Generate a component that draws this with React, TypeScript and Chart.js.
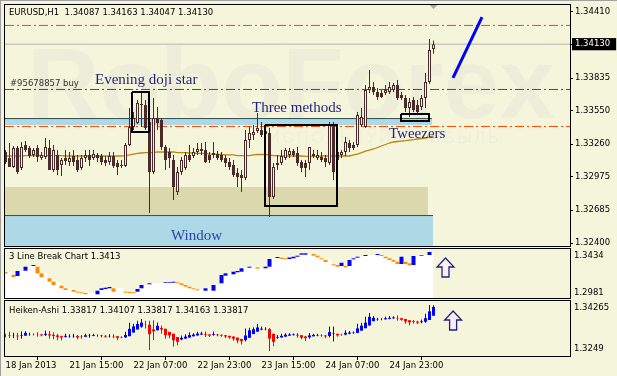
import React, { useEffect, useRef } from "react";
import { Chart, registerables } from "chart.js";

Chart.register(...registerables);

// ---------------- data ----------------
const headerText = "EURUSD,H1  1.34087 1.34163 1.34047 1.34130";
const lineBreakTitle = "3 Line Break Chart 1.3413";
const heikenTitle = "Heiken-Ashi 1.33817 1.34107 1.33817 1.34163 1.33817";
const orderLabel = "#95678857 buy";

const xTickBars = [0, 16, 32, 48, 64, 80, 96];
const xTickLabels = ["18 Jan 2013", "21 Jan 15:00", "22 Jan 07:00", "22 Jan 23:00", "23 Jan 15:00", "24 Jan 07:00", "24 Jan 23:00"];

const priceTicks = [1.3441, 1.3413, 1.33835, 1.3355, 1.3326, 1.32975, 1.32685, 1.324];
const currentPrice = 1.3413;
const lbTickLabels = ["1.2981", "1.3434"];
const haTickLabels = ["1.3249", "1.34265"];

const openP = [
  1.33192, 1.33139, 1.33061, 1.33226, 1.33052, 1.33253, 1.33226, 1.33166, 1.33226, 1.33139,
  1.33148, 1.33226, 1.33035, 1.33166, 1.33079, 1.33139, 1.33105, 1.33157, 1.33122, 1.33052,
  1.33139, 1.33166, 1.33139, 1.33166, 1.33157, 1.33122, 1.33105, 1.33157, 1.33096, 1.33079,
  1.3307, 1.33253, 1.33409, 1.33444, 1.33601, 1.33601, 1.33453, 1.33018, 1.33487, 1.3347,
  1.33235, 1.33192, 1.33122, 1.32844, 1.33018, 1.33052, 1.33166, 1.33157, 1.33192, 1.33218,
  1.33209, 1.33166, 1.33166, 1.33174, 1.33166, 1.33139, 1.33105, 1.33079, 1.33009, 1.32992,
  1.32965, 1.33296, 1.3334, 1.33374, 1.33383, 1.33374, 1.33357, 1.328, 1.33079, 1.33096,
  1.33139, 1.33166, 1.332, 1.33183, 1.33105, 1.33096, 1.33096, 1.33157, 1.33139, 1.33148,
  1.33139, 1.33096, 1.33427, 1.33122, 1.33166, 1.33192, 1.3327, 1.33253, 1.33253, 1.33427,
  1.33409, 1.33731, 1.33757, 1.33714, 1.33705, 1.33705, 1.33714, 1.33731, 1.33775, 1.33688,
  1.33661, 1.33574, 1.33644, 1.33601, 1.33583, 1.33661, 1.33801, 1.34087,
];
const highP = [
  1.33209, 1.3327, 1.33244, 1.33244, 1.33279, 1.33287, 1.33244, 1.33226, 1.33253, 1.33192,
  1.33313, 1.33296, 1.33253, 1.33209, 1.33139, 1.33209, 1.33192, 1.33209, 1.33166, 1.33166,
  1.33209, 1.33209, 1.33209, 1.33183, 1.33174, 1.33157, 1.33192, 1.33192, 1.33122, 1.33122,
  1.3327, 1.33574, 1.3354, 1.33644, 1.33705, 1.33644, 1.33644, 1.33661, 1.33583, 1.33487,
  1.33253, 1.33226, 1.33166, 1.33061, 1.33148, 1.33192, 1.33253, 1.33226, 1.3327, 1.3327,
  1.33279, 1.33192, 1.33279, 1.332, 1.33192, 1.33166, 1.33139, 1.33122, 1.33052, 1.33035,
  1.33383, 1.33409, 1.33427, 1.33531, 1.33453, 1.33427, 1.334, 1.33096, 1.33166, 1.33209,
  1.33226, 1.33226, 1.33218, 1.33235, 1.33122, 1.33122, 1.33235, 1.33209, 1.33209, 1.33192,
  1.33166, 1.33453, 1.33453, 1.33209, 1.33209, 1.33322, 1.33296, 1.33279, 1.3354, 1.33574,
  1.33775, 1.33905, 1.33801, 1.33748, 1.33731, 1.33775, 1.33801, 1.33792, 1.33818, 1.33714,
  1.33688, 1.33661, 1.3367, 1.33644, 1.33688, 1.33879, 1.34175, 1.34163,
];
const lowP = [
  1.33087, 1.33061, 1.33052, 1.33, 1.33035, 1.33192, 1.33139, 1.33148, 1.33105, 1.33122,
  1.33131, 1.33035, 1.33018, 1.32992, 1.32983, 1.33079, 1.3307, 1.3307, 1.33018, 1.33035,
  1.33105, 1.3307, 1.33122, 1.33105, 1.33079, 1.3307, 1.33079, 1.33052, 1.32992, 1.33052,
  1.33061, 1.33244, 1.33383, 1.33435, 1.33409, 1.33383, 1.32661, 1.33, 1.33383, 1.33209,
  1.33035, 1.33052, 1.32774, 1.32818, 1.32992, 1.33035, 1.33105, 1.33139, 1.33166, 1.33166,
  1.33096, 1.33096, 1.33139, 1.33122, 1.33105, 1.33061, 1.33035, 1.32974, 1.32887, 1.32844,
  1.32948, 1.33226, 1.33296, 1.33357, 1.33322, 1.33322, 1.32626, 1.32783, 1.33035, 1.33079,
  1.33122, 1.33139, 1.33148, 1.3307, 1.33018, 1.32974, 1.33035, 1.33139, 1.33122, 1.33105,
  1.33061, 1.33079, 1.32948, 1.33105, 1.33139, 1.33157, 1.33192, 1.33209, 1.33235, 1.33409,
  1.334, 1.33705, 1.33688, 1.33644, 1.33661, 1.33688, 1.33696, 1.33714, 1.33644, 1.33644,
  1.3354, 1.33496, 1.3354, 1.33531, 1.33557, 1.33574, 1.33783, 1.34047,
];
const closeP = [
  1.33105, 1.33061, 1.33226, 1.33018, 1.33235, 1.33209, 1.33157, 1.33209, 1.33148, 1.33166,
  1.33235, 1.33035, 1.33209, 1.33035, 1.33122, 1.33113, 1.33139, 1.33105, 1.33035, 1.33139,
  1.33166, 1.33122, 1.33174, 1.33139, 1.33105, 1.33096, 1.33157, 1.3307, 1.33061, 1.3307,
  1.33253, 1.33409, 1.33487, 1.33618, 1.33609, 1.334, 1.33018, 1.33487, 1.33444, 1.33235,
  1.33122, 1.33139, 1.32887, 1.33018, 1.33122, 1.33166, 1.33122, 1.33192, 1.33218, 1.332,
  1.33105, 1.33122, 1.33183, 1.33139, 1.33122, 1.33096, 1.33061, 1.32992, 1.32974, 1.32965,
  1.33296, 1.33357, 1.33366, 1.334, 1.3334, 1.33348, 1.328, 1.33061, 1.33096, 1.33157,
  1.33209, 1.332, 1.33166, 1.33096, 1.33052, 1.33052, 1.33235, 1.33174, 1.33166, 1.33122,
  1.33105, 1.33427, 1.33018, 1.33192, 1.33192, 1.33279, 1.33226, 1.33226, 1.33514, 1.33496,
  1.33731, 1.33757, 1.33714, 1.3367, 1.3367, 1.33731, 1.33757, 1.33775, 1.33661, 1.33661,
  1.33574, 1.33627, 1.33557, 1.3354, 1.33661, 1.33801, 1.34079, 1.3413,
];
const maP = [
  1.33157, 1.33157, 1.33157, 1.33157, 1.33157, 1.33161, 1.33161, 1.33161, 1.33161, 1.33161,
  1.33161, 1.33161, 1.33161, 1.33161, 1.33161, 1.33157, 1.33157, 1.33157, 1.33157, 1.33157,
  1.33157, 1.33157, 1.33157, 1.33157, 1.33157, 1.33157, 1.33157, 1.33157, 1.33157, 1.33157,
  1.33161, 1.33166, 1.33174, 1.33179, 1.33183, 1.33187, 1.33187, 1.33187, 1.33192, 1.33192,
  1.33192, 1.33192, 1.33192, 1.33187, 1.33187, 1.33187, 1.33183, 1.33183, 1.33179, 1.33179,
  1.33179, 1.33174, 1.33174, 1.3317, 1.3317, 1.33166, 1.33166, 1.33166, 1.33161, 1.33161,
  1.33161, 1.33161, 1.33166, 1.3317, 1.3317, 1.3317, 1.33166, 1.33161, 1.33161, 1.33157,
  1.33157, 1.33157, 1.33157, 1.33157, 1.33157, 1.33153, 1.33153, 1.33153, 1.33153, 1.33157,
  1.33157, 1.33157, 1.33157, 1.33157, 1.33157, 1.33157, 1.33157, 1.33166, 1.33174, 1.33187,
  1.332, 1.33209, 1.33218, 1.33231, 1.33244, 1.33257, 1.3327, 1.33279, 1.33283, 1.33287,
  1.33291, 1.33296, 1.333, 1.33305, 1.33309, 1.33313, 1.33322, 1.33331,
];

// 3 Line Break bricks (upper value, lower value, direction) per bar
const lbHigh = [
  1.32214, null, 1.31936, 1.32306, null, 1.32704, null, 1.32861, 1.32704, 1.32094,
  null, 1.31631, 1.31317, null, 1.30947, 1.30707, null, 1.3055, 1.30392, 1.30337,
  1.30272, null, null, 1.30485, 1.30707, 1.30762, 1.30827, 1.30707, null, null,
  1.30392, 1.30365, 1.30337, 1.30642, 1.31012, null, 1.31169, null, null, null,
  1.31261, 1.31289, 1.31317, 1.31261, 1.31169, 1.31012, 1.30855, 1.30707, 1.30614, null,
  1.30707, null, 1.31012, null, 1.31936, 1.32094, null, 1.32241, 1.32306, 1.32556,
  null, 1.32704, null, 1.32648, null, 1.32704, 1.33416, null, 1.336, 1.33536,
  1.3348, 1.33554, 1.33628, 1.33721, 1.33942, 1.33942, null, 1.33878, 1.33721, 1.3348,
  1.33323, null, 1.32926, 1.32861, 1.33073, 1.32768, 1.33323, 1.3348, 1.33628, null,
  1.33785, null, null, 1.33878, 1.33785, 1.33628, 1.3348, 1.33323, 1.33166, 1.33628,
  1.33166, 1.33018, 1.33693, null, 1.33785, null, 1.34063, null,
];
const lbLow = [
  1.32075, null, 1.31751, 1.31844, null, 1.32334, null, 1.32768, 1.32094, 1.31724,
  null, 1.31317, 1.31012, null, 1.30707, 1.3055, null, 1.30392, 1.303, 1.30245,
  1.30152, null, null, 1.30152, 1.3055, 1.30642, 1.30707, 1.30392, null, null,
  1.303, 1.30272, 1.30245, 1.30392, 1.30707, null, 1.31077, null, null, null,
  1.31197, 1.31225, 1.31225, 1.31169, 1.31012, 1.30855, 1.30707, 1.30614, 1.30522, null,
  1.30485, null, 1.30485, null, 1.31169, 1.31872, null, 1.32001, 1.32186, 1.32241,
  null, 1.32611, null, 1.32519, null, 1.32556, 1.32704, null, 1.33508, 1.33416,
  1.33388, 1.33416, 1.3348, 1.33628, 1.33813, 1.33813, null, 1.33721, 1.33573, 1.33388,
  1.33138, null, 1.32833, 1.32704, 1.32768, 1.32648, 1.32768, 1.33388, 1.33536, null,
  1.33693, null, null, 1.33785, 1.33693, 1.3348, 1.33323, 1.33166, 1.32953, 1.32953,
  1.32953, 1.32833, 1.32861, null, 1.33721, null, 1.33785, null,
];
const lbDir = [
  "d", null, "d", "u", null, "u", null, "u", "d", "d",
  null, "d", "d", null, "d", "d", null, "d", "d", "d",
  "d", null, null, "u", "u", "u", "u", "d", null, null,
  "d", "d", "d", "u", "u", null, "u", null, null, null,
  "u", "u", "u", "d", "d", "d", "d", "d", "d", null,
  "u", null, "u", null, "u", "u", null, "u", "u", "u",
  null, "u", null, "d", null, "u", "u", null, "u", "d",
  "d", "u", "u", "u", "u", "u", null, "d", "d", "d",
  "d", null, "d", "d", "u", "d", "u", "u", "u", null,
  "u", null, null, "u", "d", "d", "d", "d", "d", "u",
  "d", "d", "u", null, "u", null, "u", null,
];

// chart objects
const levelPrices = [1.34293, 1.33414, 1.33736, 1.3413];
const bandTop = [1.33479, 1.32887, 1.32644];
const bandBottom = [1.33427, 1.32644, 1.323];
const bandEnd = [106.6, 105.6, 106.9];
const edgeLinePrice = [1.33483, 1.32639];
const edgeLineEnd = [106.6, 106.9];
const boxX0 = [31.625, 64.875, 98.875];
const boxX1 = [35.875, 82.875, 105.875];
const boxTop = [1.33714, 1.33427, 1.33522];
const boxBottom = [1.33366, 1.32722, 1.33462];
const trendX = [111.875, 119.125];
const trendY = [1.33836, 1.34366];
const annTexts = ["Evening doji star", "Three methods", "Tweezers", "Window"];
const annX = [22.375, 61.625, 95.875, 41.375];
const annY = [1.33818, 1.33574, 1.33348, 1.32461];
const lbArrow = [110, 1.33508];
const haArrow = [111.9, 1.33971];

// ---------------- styling ----------------
const BG = "#F5F5DC";
const CANDLE = "#4B2A2A";
const UI_FONT = "DejaVu Sans";
const UI_SIZE = 8.5;
const X_MIN = -0.125;
const X_MAX = 141.125;

function hiddenX() {
  return { type: "linear", min: X_MIN, max: X_MAX, offset: false, display: false };
}

function drawBorder(chart: any) {
  const { ctx, chartArea: a } = chart;
  ctx.save();
  ctx.strokeStyle = "#000";
  ctx.lineWidth = 1;
  ctx.strokeRect(a.left - 0.5, a.top - 0.5, a.right - a.left + 1, a.bottom - a.top + 1);
  ctx.restore();
}

function drawArrow(ctx: CanvasRenderingContext2D, cx: number, ty: number) {
  ctx.save();
  ctx.beginPath();
  ctx.moveTo(cx, ty);
  ctx.lineTo(cx + 8.5, ty + 9);
  ctx.lineTo(cx + 3.5, ty + 9);
  ctx.lineTo(cx + 3.5, ty + 19);
  ctx.lineTo(cx - 3.5, ty + 19);
  ctx.lineTo(cx - 3.5, ty + 9);
  ctx.lineTo(cx - 8.5, ty + 9);
  ctx.closePath();
  ctx.fillStyle = "#F8EEF6";
  ctx.fill();
  ctx.strokeStyle = "#22227A";
  ctx.lineWidth = 1.3;
  ctx.stroke();
  ctx.restore();
}

function drawTitle(chart: any, text: string, y: number) {
  const { ctx } = chart;
  ctx.save();
  ctx.font = `${UI_SIZE}px "${UI_FONT}"`;
  ctx.fillStyle = "#000";
  ctx.textBaseline = "middle";
  ctx.textAlign = "left";
  ctx.fillText(text, 9, y);
  ctx.restore();
}

const baseOptions: any = {
  responsive: false,
  animation: false,
  devicePixelRatio: 1,
  events: [],
  plugins: { legend: { display: false }, tooltip: { enabled: false } },
};

function subYScale(min: number, max: number, px: number, offTop: number, offBottom: number, labels: string[]) {
  return {
    type: "linear",
    position: "right",
    min,
    max,
    afterBuildTicks: (a: any) => {
      const r = (a.max - a.min) / px;
      a.ticks = [{ value: a.min + offBottom * r }, { value: a.max - offTop * r }];
    },
    afterFit: (a: any) => {
      a.width = 47;
      a.paddingTop = 0;
      a.paddingBottom = 0;
    },
    grid: { drawOnChartArea: false, drawTicks: false },
    border: { display: false },
    ticks: {
      autoSkip: false,
      padding: 4,
      color: "#000",
      font: { family: UI_FONT, size: UI_SIZE },
      callback: (_v: any, i: number) => labels[i],
    },
  };
}

function mainConfig(): any {
  const candles = openP.map((o, i) => ({ x: i, y: [o, closeP[i]] }));
  const wicks = openP.map((_o, i) => ({ x: i, y: [lowP[i], highP[i]] }));
  const bodyColors = openP.map((o, i) => (closeP[i] >= o ? BG : CANDLE));
  const datasets: any[] = [];
  const bandColors = ["#ADD8E6", "#DCD8AD", "#ADD8E6"];
  bandTop.forEach((t, i) => {
    datasets.push({
      type: "line",
      data: [{ x: X_MIN, y: t }, { x: bandEnd[i], y: t }],
      borderWidth: 0,
      pointRadius: 0,
      fill: { value: bandBottom[i] },
      backgroundColor: bandColors[i],
      order: 30,
    });
  });
  edgeLinePrice.forEach((p, i) => {
    datasets.push({
      type: "line",
      data: [{ x: X_MIN, y: p }, { x: edgeLineEnd[i], y: p }],
      borderColor: "#2F4F4F",
      borderWidth: 1,
      pointRadius: 0,
      fill: false,
      order: 25,
    });
  });
  const levelColors = ["#FF4500", "#FF4500", "#008000", "#B4B4B4"];
  levelPrices.forEach((p, i) => {
    datasets.push({
      type: "line",
      data: [{ x: X_MIN, y: p }, { x: X_MAX, y: p }],
      borderColor: levelColors[i],
      borderWidth: 1,
      borderDash: i < 3 ? [9, 3, 2, 3] : [],
      pointRadius: 0,
      fill: false,
      order: 20,
    });
  });
  datasets.push({
    type: "line",
    data: maP.map((v, i) => ({ x: i, y: v })),
    borderColor: "#B8860B",
    borderWidth: 1.3,
    pointRadius: 0,
    fill: false,
    tension: 0,
    order: 15,
  });
  datasets.push({
    type: "bar",
    data: wicks,
    backgroundColor: CANDLE,
    borderWidth: 0,
    barThickness: 1,
    grouped: false,
    inflateAmount: 0,
    order: 10,
  });
  datasets.push({
    type: "bar",
    data: candles,
    backgroundColor: bodyColors,
    borderColor: CANDLE,
    borderWidth: 1,
    borderSkipped: false,
    barThickness: 3,
    grouped: false,
    inflateAmount: 0,
    order: 9,
  });
  boxX0.forEach((x0, i) => {
    const x1 = boxX1[i];
    const t = boxTop[i];
    const b = boxBottom[i];
    datasets.push({
      type: "line",
      data: [{ x: x0, y: t }, { x: x1, y: t }, { x: x1, y: b }, { x: x0, y: b }, { x: x0, y: t }],
      borderColor: "#000",
      borderWidth: 2,
      pointRadius: 0,
      fill: false,
      tension: 0,
      order: 5,
    });
  });
  datasets.push({
    type: "line",
    data: trendX.map((x, i) => ({ x, y: trendY[i] })),
    borderColor: "#0000FF",
    borderWidth: 3,
    pointRadius: 0,
    fill: false,
    order: 4,
  });

  const plugin = {
    id: "mainDeco",
    beforeDatasetsDraw(chart: any) {
      const { ctx, chartArea: a } = chart;
      ctx.save();
      ctx.beginPath();
      ctx.rect(a.left, a.top, a.right - a.left, a.bottom - a.top);
      ctx.clip();
      ctx.fillStyle = "#EDEDD9";
      ctx.font = 'bold 100px "Liberation Sans"';
      ctx.textBaseline = "alphabetic";
      ctx.fillText("RoboForex", 27, 118);
      ctx.font = '16px "Liberation Sans"';
      ctx.fillStyle = "#EEEEDA";
      (ctx as any).letterSpacing = "3px";
      ctx.fillText("ИСПОЛЬЗУЙ ПРИБЫЛЬ", 268, 143);
      ctx.restore();
    },
    afterDatasetsDraw(chart: any) {
      const { ctx, scales } = chart;
      const xs = scales.x;
      const ys = scales.y;
      ctx.save();
      ctx.font = '15px "Liberation Serif"';
      ctx.textBaseline = "middle";
      ctx.textAlign = "left";
      annTexts.forEach((t, i) => {
        ctx.fillStyle = i === 3 ? "#2B44A8" : "#1F1F7A";
        ctx.fillText(t, xs.getPixelForValue(annX[i]), ys.getPixelForValue(annY[i]));
      });
      ctx.font = `${UI_SIZE}px "${UI_FONT}"`;
      ctx.fillStyle = "#303030";
      ctx.fillText(orderLabel, chart.chartArea.left + 5, ys.getPixelForValue(levelPrices[2]) - 6);
      const sx = xs.getPixelForValue(openP.length - 1);
      ctx.fillStyle = "#A8A8A8";
      ctx.beginPath();
      ctx.moveTo(sx - 4, chart.chartArea.top);
      ctx.lineTo(sx + 4, chart.chartArea.top);
      ctx.lineTo(sx, chart.chartArea.top + 4);
      ctx.closePath();
      ctx.fill();
      ctx.restore();
      drawTitle(chart, headerText, 13);
    },
    afterDraw(chart: any) {
      drawBorder(chart);
    },
  };

  return {
    type: "bar",
    data: { datasets },
    options: {
      ...baseOptions,
      layout: { padding: { left: 5, top: 5, right: 0, bottom: 2 } },
      scales: {
        x: hiddenX(),
        y: {
          type: "linear",
          position: "right",
          min: 1.323739,
          max: 1.344709,
          afterBuildTicks: (a: any) => {
            a.ticks = priceTicks.map((v) => ({ value: v }));
          },
          afterFit: (a: any) => {
            a.width = 47;
            a.paddingTop = 0;
            a.paddingBottom = 0;
          },
          grid: { drawOnChartArea: false, drawTicks: true, tickLength: 3, color: "#000" },
          border: { display: false },
          ticks: {
            autoSkip: false,
            padding: 2,
            font: { family: UI_FONT, size: UI_SIZE },
            color: (c: any) => (c.tick && c.tick.value === currentPrice ? "#FFFFFF" : "#000000"),
            showLabelBackdrop: true,
            backdropColor: (c: any) => (c.tick && c.tick.value === currentPrice ? "#000000" : "rgba(0,0,0,0)"),
            backdropPadding: { top: 1, bottom: 1, left: 3, right: 6 },
            callback: (v: any) => Number(v).toFixed(5),
          },
        },
      },
    },
    plugins: [plugin],
  };
}

function lineBreakConfig(): any {
  const level: number[] = [];
  lbHigh.forEach((h, i) => {
    level.push(h !== null ? (h as number) : level[i - 1]);
  });
  const bricks: any[] = [];
  const colors: string[] = [];
  lbHigh.forEach((h, i) => {
    if (h === null) return;
    bricks.push({ x: i, y: [lbLow[i], h] });
    colors.push(lbDir[i] === "u" ? "#0000FF" : "#FF8C00");
  });
  const plugin = {
    id: "lbDeco",
    afterDatasetsDraw(chart: any) {
      const { scales } = chart;
      drawArrow(chart.ctx, scales.x.getPixelForValue(lbArrow[0]), scales.y.getPixelForValue(lbArrow[1]));
      drawTitle(chart, lineBreakTitle, 9);
    },
    afterDraw(chart: any) {
      drawBorder(chart);
    },
  };
  return {
    type: "bar",
    data: {
      datasets: [
        {
          type: "line",
          data: level.map((v, i) => ({ x: i, y: v })),
          stepped: "middle",
          borderWidth: 0,
          pointRadius: 0,
          fill: "start",
          backgroundColor: "#FFFFFF",
          order: 10,
        },
        {
          type: "bar",
          data: bricks,
          backgroundColor: colors,
          borderWidth: 0,
          barThickness: 4,
          grouped: false,
          inflateAmount: 0,
          order: 5,
        },
      ],
    },
    options: {
      ...baseOptions,
      layout: { padding: { left: 5, top: 1, right: 0, bottom: 1 } },
      scales: {
        x: hiddenX(),
        y: subYScale(1.2981, 1.3434, 49, 7, 5, lbTickLabels),
      },
    },
    plugins: [plugin],
  };
}

function heikenConfig(): any {
  const haOpen: number[] = [];
  const haClose: number[] = [];
  const haHigh: number[] = [];
  const haLow: number[] = [];
  openP.forEach((o, i) => {
    const c = (o + highP[i] + lowP[i] + closeP[i]) / 4;
    const op = i === 0 ? (o + closeP[i]) / 2 : (haOpen[i - 1] + haClose[i - 1]) / 2;
    haOpen.push(op);
    haClose.push(c);
    haHigh.push(Math.max(highP[i], op, c));
    haLow.push(Math.min(lowP[i], op, c));
  });
  const col = haOpen.map((o, i) => (haClose[i] >= o ? "#0000FF" : "#FF0000"));
  const plugin = {
    id: "haDeco",
    afterDatasetsDraw(chart: any) {
      const { scales } = chart;
      drawArrow(chart.ctx, scales.x.getPixelForValue(haArrow[0]), scales.y.getPixelForValue(haArrow[1]));
      drawTitle(chart, heikenTitle, 12);
    },
    afterDraw(chart: any) {
      drawBorder(chart);
    },
  };
  return {
    type: "bar",
    data: {
      datasets: [
        {
          type: "bar",
          data: haOpen.map((_o, i) => ({ x: i, y: [haLow[i], haHigh[i]] })),
          backgroundColor: col,
          borderWidth: 0,
          barThickness: 1,
          grouped: false,
          inflateAmount: 0,
          order: 10,
        },
        {
          type: "bar",
          data: haOpen.map((o, i) => ({ x: i, y: [o, haClose[i]] })),
          backgroundColor: col,
          borderWidth: 0,
          barThickness: 3,
          grouped: false,
          inflateAmount: 0,
          order: 5,
        },
      ],
    },
    options: {
      ...baseOptions,
      layout: { padding: { left: 5, top: 2, right: 0, bottom: 0 } },
      scales: {
        x: {
          type: "linear",
          min: X_MIN,
          max: X_MAX,
          offset: false,
          afterBuildTicks: (a: any) => {
            a.ticks = xTickBars.map((v) => ({ value: v }));
          },
          afterFit: (a: any) => {
            a.height = 20;
            a.paddingLeft = 0;
            a.paddingRight = 0;
          },
          grid: { drawOnChartArea: false, drawTicks: true, tickLength: 4, color: "#000" },
          border: { display: false },
          ticks: {
            autoSkip: false,
            maxRotation: 0,
            minRotation: 0,
            align: "start",
            padding: 1,
            color: "#000",
            font: { family: UI_FONT, size: UI_SIZE },
            callback: (_v: any, i: number) => xTickLabels[i],
          },
        },
        y: subYScale(1.32459, 1.34307, 55, 7, 7, haTickLabels),
      },
    },
    plugins: [plugin],
  };
}

export default function App() {
  const r1 = useRef<HTMLCanvasElement>(null);
  const r2 = useRef<HTMLCanvasElement>(null);
  const r3 = useRef<HTMLCanvasElement>(null);
  useEffect(() => {
    const charts = [
      new Chart(r1.current as HTMLCanvasElement, mainConfig()),
      new Chart(r2.current as HTMLCanvasElement, lineBreakConfig()),
      new Chart(r3.current as HTMLCanvasElement, heikenConfig()),
    ];
    return () => charts.forEach((c) => c.destroy());
  }, []);
  return (
    <div style={{ position: "fixed", left: 0, top: 0, width: 617, height: 376, background: BG, overflow: "hidden" }}>
      <canvas ref={r1} width={617} height={248} style={{ position: "absolute", left: 0, top: 0, width: 617, height: 248 }} />
      <canvas ref={r2} width={617} height={51} style={{ position: "absolute", left: 0, top: 248, width: 617, height: 51 }} />
      <canvas ref={r3} width={617} height={77} style={{ position: "absolute", left: 0, top: 299, width: 617, height: 77 }} />
      <div style={{ position: "absolute", left: 0, top: 0, width: 617, height: 376, boxShadow: "inset 1px 1px 0 #A0A0A0", pointerEvents: "none" }} />
    </div>
  );
}
